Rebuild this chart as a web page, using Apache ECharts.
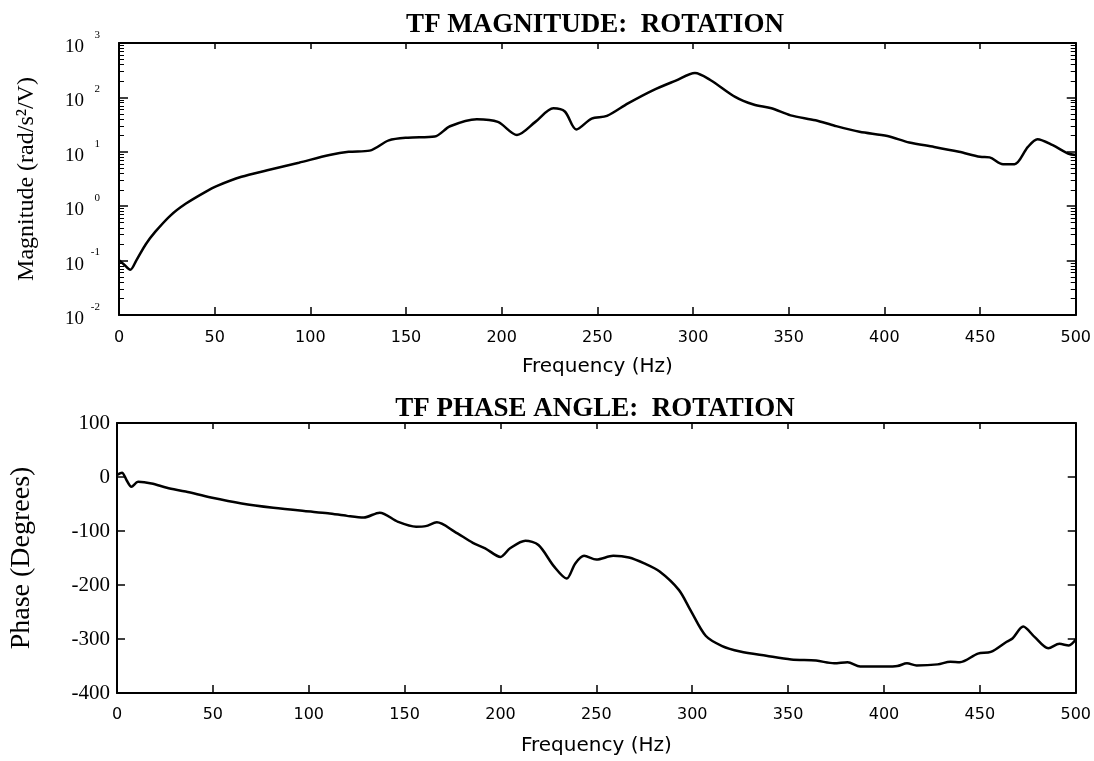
<!DOCTYPE html>
<html>
<head>
<meta charset="utf-8">
<title>TF Rotation</title>
<script src="https://cdn.jsdelivr.net/npm/echarts@6/dist/echarts.min.js"></script>
<style>
  html, body { margin: 0; padding: 0; background: #fff; }
  #chart { width: 1094px; height: 761px; }
</style>
</head>
<body>
<div id="chart"></div>
<script>
// magnitude curve (Hz, rad/s^2/V)
const magFreq = [0, 2.6, 5.9, 9, 14, 19, 27, 35, 45, 51, 64, 77.5, 94, 110, 120, 131, 141, 151, 165, 173,
  187, 198, 208, 217.6, 227, 233, 239, 247, 255, 266, 279, 291, 301, 309, 322, 331.6, 341, 351, 364, 374,
  387, 401.6, 413, 426, 439, 450, 455, 462, 468, 475, 480, 488, 496, 500];
const magValue = [0.102, 0.085, 0.068, 0.10, 0.20, 0.34, 0.68, 1.12, 1.82, 2.34, 3.47, 4.57, 6.3, 8.7, 10, 10.5, 16.2, 18.2, 19.1, 29.5,
  39.8, 35.5, 20.4, 35.5, 63, 55, 25.7, 40.7, 45.7, 77.6, 135, 204, 282, 209, 102, 74, 63, 46.8, 38, 30.2,
  23.4, 19.5, 14.8, 12.3, 10, 8.1, 7.9, 5.9, 5.9, 12.3, 17, 13.2, 9.3, 8.7];

// phase curve (Hz, degrees)
const phaseFreq = [0, 2.6, 5, 7.5, 11, 18, 26, 35.8, 49, 65, 81.5, 97.6, 110, 120, 128.7, 137, 146.6, 156, 161, 166.8,
  176, 185.6, 192, 200, 205, 213, 219.8, 228, 234.5, 239, 243.6, 250, 258.8, 267, 275, 283, 293, 299, 307, 315.6,
  325, 338.6, 351.6, 364.6, 374, 381, 387.6, 400.6, 407, 412, 417, 428, 434.6, 439.6, 449, 455.7, 464, 467, 472.6, 478.5,
  485.7, 491.5, 496.4, 500];
const phaseValue = [4, 8, -6, -18, -9, -12, -20, -27, -38, -49, -57, -63, -67, -72, -75, -66, -83, -92, -91, -84,
  -101, -122, -132, -148, -132, -118, -126, -166, -188, -160, -146, -153, -146, -149, -160, -175, -209, -246, -294, -313,
  -323, -331, -338, -340, -345, -343, -351, -351, -350, -345, -349, -347, -342, -343, -327, -324, -305, -299, -277, -296,
  -317, -309, -312, -301];

const freqTicks = [0, 50, 100, 150, 200, 250, 300, 350, 400, 450, 500];

const serif = "Liberation Serif";
const sans = "DejaVu Sans";

const chart = echarts.init(document.getElementById("chart"));

const lineAxis = { onZero: false, lineStyle: { color: "#000", width: 2 } };

const bottomX = (grid, margin, gap) => ({
  type: "value",
  gridIndex: grid,
  min: 0,
  max: 500,
  interval: 50,
  name: "Frequency (Hz)",
  nameLocation: "middle",
  nameGap: gap,
  nameTextStyle: { fontFamily: sans, fontSize: 20, color: "#000" },
  axisLine: lineAxis,
  axisTick: { show: true, inside: true, length: 8, lineStyle: { color: "#000", width: 1.5 } },
  axisLabel: { fontFamily: sans, fontSize: 16, color: "#000", margin: margin,
    formatter: (v) => (freqTicks.includes(v) ? String(v) : "") },
  splitLine: { show: false },
});

const topX = (grid) => ({
  type: "value",
  gridIndex: grid,
  position: "top",
  min: 0,
  max: 500,
  interval: 50,
  axisLine: lineAxis,
  axisTick: { show: true, inside: true, length: 6, lineStyle: { color: "#000", width: 1.5 } },
  axisLabel: { show: false },
  splitLine: { show: false },
});

const logAxis = (pos, extra) => Object.assign({
  type: "log",
  gridIndex: 0,
  logBase: 10,
  min: 0.01,
  max: 1000,
  position: pos,
  axisLine: lineAxis,
  axisTick: { show: true, inside: true, length: 9, lineStyle: { color: "#000", width: 1.5 } },
  minorTick: { show: true, splitNumber: 9, length: 5, lineStyle: { color: "#000" } },
  axisLabel: { show: false },
  splitLine: { show: false },
}, extra);

const option = {
  animation: false,
  backgroundColor: "#fff",
  title: [
    {
      text: "TF MAGNITUDE:  ROTATION",
      left: 590,
      top: 7,
      textAlign: "center",
      textStyle: { fontFamily: serif, fontWeight: "bold", fontSize: 27, color: "#000" },
    },
    {
      text: "TF PHASE ANGLE:  ROTATION",
      left: 590,
      top: 391,
      textAlign: "center",
      textStyle: { fontFamily: serif, fontWeight: "bold", fontSize: 27, color: "#000" },
    },
  ],
  grid: [
    { left: 119, top: 43, width: 961, height: 272 },
    { left: 117, top: 423, width: 961, height: 270 },
  ],
  xAxis: [bottomX(0, 15, 42), topX(0), bottomX(1, 14, 43), topX(1)],
  yAxis: [
    logAxis("left", {
      name: "Magnitude (rad/s\u00b2/V)",
      nameLocation: "middle",
      nameGap: 80,
      nameTextStyle: { fontFamily: serif, fontSize: 24, color: "#000" },
      axisLabel: {
        margin: 19,
        formatter: (v) => "{b|10}{e|" + Math.round(Math.log10(v)) + "}",
        rich: {
          b: { fontFamily: serif, fontSize: 19, color: "#000", verticalAlign: "bottom", padding: [6, 0, 0, 0] },
          e: { fontFamily: serif, fontSize: 11, color: "#000", verticalAlign: "bottom", align: "right",
            width: 16, padding: [0, 0, 16, 0] },
        },
      },
    }),
    logAxis("right", {}),
    {
      type: "value",
      gridIndex: 1,
      min: -400,
      max: 100,
      interval: 100,
      name: "Phase (Degrees)",
      nameLocation: "middle",
      nameGap: 81,
      nameTextStyle: { fontFamily: serif, fontSize: 28, color: "#000" },
      axisLine: lineAxis,
      axisTick: { show: true, inside: true, length: 8, lineStyle: { color: "#000", width: 1.5 } },
      axisLabel: { fontFamily: serif, fontSize: 21, color: "#000", margin: 7 },
      splitLine: { show: false },
    },
    {
      type: "value",
      gridIndex: 1,
      min: -400,
      max: 100,
      interval: 100,
      position: "right",
      axisLine: lineAxis,
      axisTick: { show: true, inside: true, length: 8, lineStyle: { color: "#000", width: 1.5 } },
      axisLabel: { show: false },
      splitLine: { show: false },
    },
  ],
  series: [
    {
      name: "Magnitude",
      type: "line",
      xAxisIndex: 0,
      yAxisIndex: 0,
      data: magFreq.map((f, i) => [f, magValue[i]]),
      smooth: 0.3,
      showSymbol: false,
      lineStyle: { color: "#000", width: 2.5 },
    },
    {
      name: "Phase",
      type: "line",
      xAxisIndex: 2,
      yAxisIndex: 2,
      data: phaseFreq.map((f, i) => [f, phaseValue[i]]),
      smooth: 0.3,
      showSymbol: false,
      lineStyle: { color: "#000", width: 2.5 },
    },
  ],
};

chart.setOption(option);

window.addEventListener("resize", () => chart.resize());
</script>
</body>
</html>
